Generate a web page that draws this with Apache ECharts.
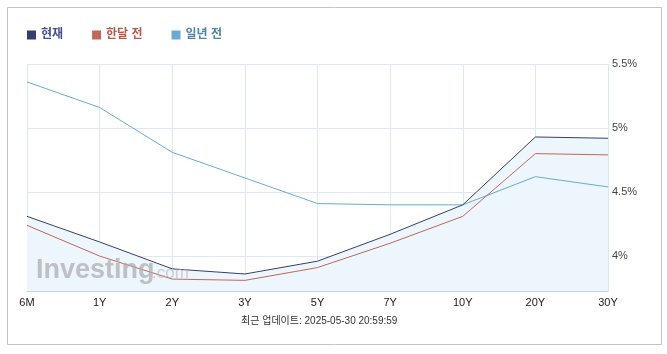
<!DOCTYPE html>
<html>
<head>
<meta charset="utf-8">
<script src="https://cdn.jsdelivr.net/npm/echarts@6/dist/echarts.min.js"></script>
<style>
  html, body { margin: 0; padding: 0; background: #fff; }
  #chart { width: 667px; height: 354px; }
</style>
</head>
<body>
<div id="chart"></div>
<script>
// 만기 구간
var categories = ['6M', '1Y', '2Y', '3Y', '5Y', '7Y', '10Y', '20Y', '30Y'];
// 수익률 (%)
var nowData      = [4.31, 4.11, 3.90, 3.86, 3.96, 4.17, 4.40, 4.93, 4.92];
var monthAgoData = [4.24, 4.00, 3.82, 3.81, 3.91, 4.10, 4.31, 4.80, 4.79];
var yearAgoData  = [5.36, 5.16, 4.81, 4.61, 4.41, 4.40, 4.40, 4.62, 4.54];
var yTicks = [4, 4.5, 5, 5.5];
var seriesNames = ['현재', '한달 전', '일년 전'];
var updated = '최근 업데이트: 2025-05-30 20:59:59';

var font = 'Arial, "Liberation Sans", "Noto Sans CJK KR", sans-serif';
var myChart = echarts.init(document.getElementById('chart'));

myChart.setOption({
    animation: false,
    legend: {
        left: 22,
        top: 24,
        itemWidth: 9,
        itemHeight: 9,
        itemGap: 29,
        icon: 'rect',
        data: [
            { name: seriesNames[0], textStyle: { color: '#3f4c96' } },
            { name: seriesNames[1], textStyle: { color: '#b5594b' } },
            { name: seriesNames[2], textStyle: { color: '#4b82ab' } }
        ],
        textStyle: { fontSize: 12, fontWeight: 'bold', fontFamily: font }
    },
    grid: {
        left: 27,
        right: 59,
        top: 64,
        bottom: 63
    },
    xAxis: {
        type: 'category',
        boundaryGap: false,
        data: categories,
        axisLine: { lineStyle: { color: '#c5d3e2' } },
        axisTick: { show: false },
        axisLabel: { color: '#222', fontSize: 11, fontFamily: font, margin: 6 },
        splitLine: { show: true, lineStyle: { color: '#dfe7f1' } }
    },
    yAxis: {
        type: 'value',
        position: 'right',
        min: 3.727,
        max: 5.5,
        axisLine: { show: false },
        axisTick: { show: false, customValues: yTicks },
        axisLabel: {
            customValues: yTicks,
            color: '#444',
            fontSize: 11,
            fontFamily: font,
            margin: 4,
            formatter: function (v) { return v + '%'; }
        },
        splitLine: { show: true, lineStyle: { color: '#dfe7f1' } }
    },
    graphic: [
        {
            type: 'rect',
            shape: { x: 7.5, y: 7.5, width: 654, height: 337 },
            style: { fill: 'none', stroke: '#c4c4c4', lineWidth: 1 },
            z: 100
        },
        {
            type: 'text',
            left: 36,
            top: 257,
            style: { text: 'Investing', fill: 'rgba(170,170,170,0.7)', font: 'bold 27px Arial, "Liberation Sans", sans-serif' },
            z: 100
        },
        {
            type: 'text',
            left: 152,
            top: 265,
            style: { text: '.com', fill: 'rgba(180,180,180,0.6)', font: '17px Arial, "Liberation Sans", sans-serif' },
            z: 100
        },
        {
            type: 'text',
            left: 241,
            top: 316,
            style: { text: updated, fill: '#333', font: '10px ' + font },
            z: 100
        }
    ],
    series: [
        {
            // 현재 곡선 아래 채움 영역
            name: 'area',
            type: 'line',
            data: nowData,
            symbol: 'none',
            z: 1,
            silent: true,
            lineStyle: { width: 0 },
            areaStyle: { color: '#edf5fd', opacity: 1, origin: 'start' }
        },
        {
            name: seriesNames[0],
            type: 'line',
            data: nowData,
            symbol: 'none',
            z: 4,
            lineStyle: { color: '#353e6e', width: 1 },
            itemStyle: { color: '#353e6e' }
        },
        {
            name: seriesNames[1],
            type: 'line',
            data: monthAgoData,
            symbol: 'none',
            z: 3,
            lineStyle: { color: '#c0695a', width: 1 },
            itemStyle: { color: '#c0695a' }
        },
        {
            name: seriesNames[2],
            type: 'line',
            data: yearAgoData,
            symbol: 'none',
            z: 2,
            lineStyle: { color: '#6aaad4', width: 1 },
            itemStyle: { color: '#6aaad4' }
        }
    ]
});
</script>
</body>
</html>
